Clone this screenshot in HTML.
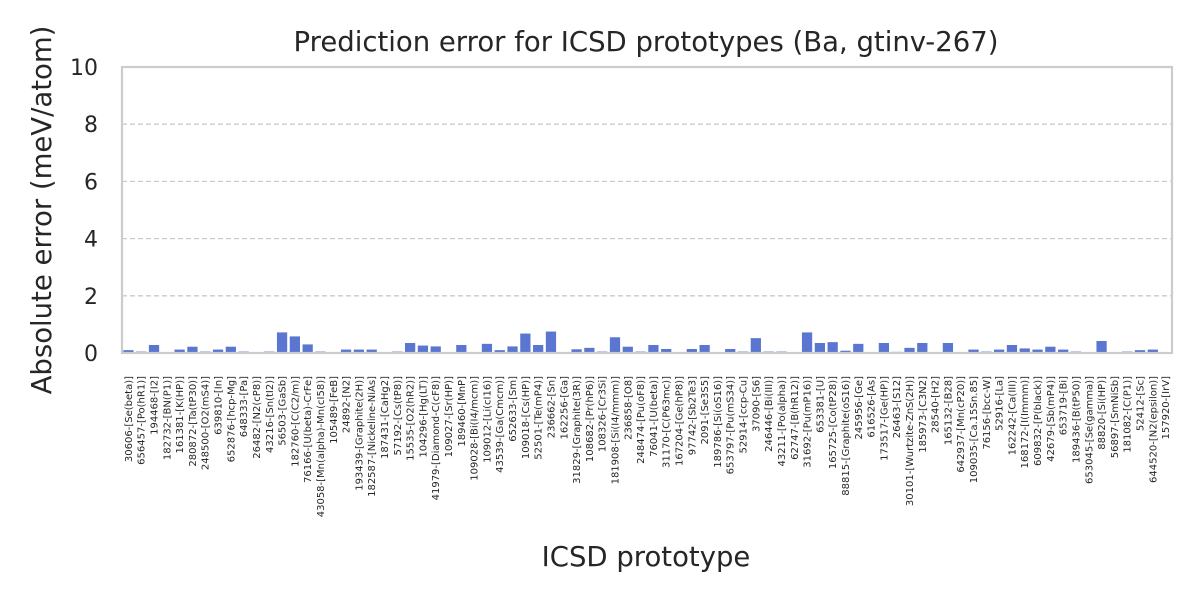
<!DOCTYPE html>
<html><head><meta charset="utf-8"><style>
body{margin:0;background:#fff}
svg{display:block;font-family:"DejaVu Sans","Liberation Sans",sans-serif}
</style></head><body>
<svg id="chart" width="1200" height="600"></svg>
<script>
const categories=["30606-[Se(beta)]","656457-[Po(hR1)]","194468-[I2]","182732-[BN(P1)]","161381-[K(HP)]","280872-[Ta(tP30)]","248500-[O2(mS4)]","639810-[In]","652876-[hcp-Mg]","648333-[Pa]","26482-[N2(cP8)]","43216-[Sn(tI2)]","56503-[GaSb]","182760-[C(C2/m)]","76166-[U(beta)-CrFe]","43058-[Mn(alpha)-Mn(cI58)]","105489-[FeB]","24892-[N2]","193439-[Graphite(2H)]","182587-[Nickeline-NiAs]","187431-[CaHg2]","57192-[Cs(tP8)]","15535-[O2(hR2)]","104296-[Hg(LT)]","41979-[Diamond-C(cF8)]","109027-[Sr(HP)]","189460-[MnP]","109028-[Bi(I4/mcm)]","109012-[Li(cI16)]","43539-[Ga(Cmcm)]","652633-[Sm]","109018-[Cs(HP)]","52501-[Te(mP4)]","236662-[Sn]","162256-[Ga]","31829-[Graphite(3R)]","108682-[Pr(hP6)]","108326-[Cr3Si]","181908-[Si(I4/mmm)]","236858-[O8]","248474-[Pu(oF8)]","76041-[U(beta)]","31170-[C(P63mc)]","167204-[Ge(hP8)]","97742-[Sb2Te3]","2091-[Se3S5]","189786-[Si(oS16)]","653797-[Pu(mS34)]","52914-[ccp-Cu]","37090-[S6]","246446-[Bi(III)]","43211-[Po(alpha)]","62747-[B(hR12)]","31692-[Pu(mP16)]","653381-[U]","165725-[Co(tP28)]","88815-[Graphite(oS16)]","245956-[Ge]","616526-[As]","173517-[Ge(HP)]","26463-[S12]","30101-[Wurtzite-ZnS(2H)]","185973-[C3N2]","28540-[H2]","165132-[B28]","642937-[Mn(cP20)]","109035-[Ca.15Sn.85]","76156-[bcc-W]","52916-[La]","162242-[Ca(III)]","168172-[I(Immm)]","609832-[P(black)]","42679-[Sb(mP4)]","653719-[Bi]","189436-[B(tP50)]","653045-[Se(gamma)]","88820-[Si(HP)]","56897-[SmNiSb]","181082-[C(P1)]","52412-[Sc]","644520-[N2(epsilon)]","157920-[IrV]"];
const errors=[0.1,0.05,0.28,0,0.12,0.22,0.05,0.12,0.22,0.05,0,0.05,0.72,0.58,0.3,0.05,0,0.12,0.12,0.12,0,0.05,0.35,0.26,0.23,0,0.28,0,0.32,0.1,0.23,0.68,0.28,0.75,0,0.13,0.18,0.05,0.55,0.22,0.05,0.28,0.14,0,0.14,0.28,0,0.14,0.05,0.52,0.05,0.05,0,0.72,0.35,0.38,0.08,0.32,0,0.35,0.04,0.18,0.35,0,0.35,0,0.12,0.05,0.12,0.28,0.16,0.12,0.22,0.12,0.05,0,0.42,0,0.05,0.1,0.12,0];
const yTicks=[0,2,4,6,8,10];

const NS="http://www.w3.org/2000/svg";
const svg=document.getElementById('chart');
const L=122,R=1172,T=67,B=353;
const yMax=10;
const y=v=>B-(v/yMax)*(B-T);
const step=(R-L)/categories.length;
const x=i=>L+step*(i+0.5);
function mk(tag,attrs,parent){const e=document.createElementNS(NS,tag);for(const k in attrs)e.setAttribute(k,attrs[k]);(parent||svg).appendChild(e);return e;}

const grid=mk('g',{});


yTicks.forEach(t=>{
  if(t>0&&t<yMax){const ln=mk('line',{x1:L,x2:R,y1:y(t),y2:y(t),stroke:'#cccccc','stroke-width':1.3,'stroke-dasharray':'5,3'},grid);
  
  }
  const tx=mk('text',{x:L-24,y:y(t)+8,'text-anchor':'end','font-size':22,fill:'#262626'});
  tx.textContent=t;
  
  
});

const bars=mk('g',{});


const bw=step*0.8;
errors.forEach((v,i)=>{
  const r=mk('rect',{x:x(i)-bw/2,y:y(v),width:bw,height:B-y(v),fill:'#5a76d1'},bars);
  
  
});
categories.forEach((c,i)=>{
  const tx=mk('text',{transform:`translate(${x(i)+3.5},376) rotate(-90)`,'text-anchor':'end','font-size':10,fill:'#262626'});
  tx.textContent=c;
  
  
});

const fr=mk('rect',{x:L,y:T,width:R-L,height:B-T,fill:'none',stroke:'#cccccc','stroke-width':2.2});



const title=mk('text',{x:646,y:51,'text-anchor':'middle','font-size':27.5,fill:'#262626'});
title.textContent='Prediction error for ICSD prototypes (Ba, gtinv-267)';


const xt=mk('text',{x:646,y:566,'text-anchor':'middle','font-size':27.5,fill:'#262626'});
xt.textContent='ICSD prototype';


const yt=mk('text',{transform:`translate(51,${(T+B)/2}) rotate(-90)`,'text-anchor':'middle','font-size':27.5,fill:'#262626'});
yt.textContent='Absolute error (meV/atom)';


</script>
</body></html>
